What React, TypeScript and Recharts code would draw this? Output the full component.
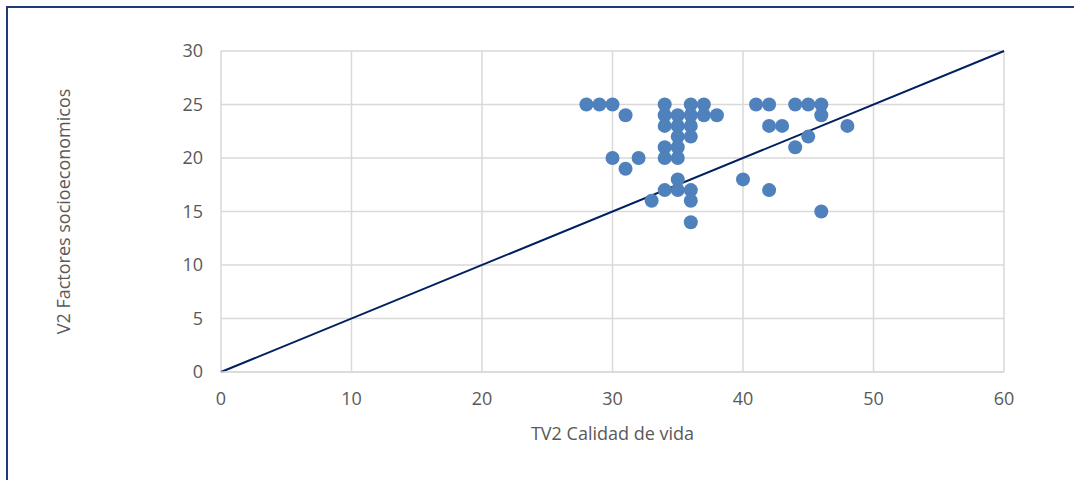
import { ScatterChart, Scatter, XAxis, YAxis, CartesianGrid, ReferenceLine, Label } from "recharts";

// TV2 Calidad de vida
const calidadVida = [
  28, 29, 30, 31, 34, 34, 34, 35, 35, 35, 36, 36, 36, 36, 37, 37, 38, 34, 34, 35, 35, 30, 31, 32,
  33, 34, 35, 35, 36, 36, 36, 40, 41, 42, 42, 43, 42, 44, 45, 46, 46, 48, 44, 45, 46,
];
// V2 Factores socioeconomicos
const factores = [
  25, 25, 25, 24, 25, 24, 23, 24, 23, 22, 25, 24, 23, 22, 25, 24, 24, 21, 20, 21, 20, 20, 19, 20,
  16, 17, 18, 17, 17, 16, 14, 18, 25, 25, 23, 23, 17, 25, 25, 25, 24, 23, 21, 22, 15,
];

const xTicks = [0, 10, 20, 30, 40, 50, 60];
const yTicks = [0, 5, 10, 15, 20, 25, 30];
const trendX = [0, 60];
const trendY = [0, 30];

const points = calidadVida.map((x, i) => ({ x, y: factores[i] }));

const FONT = "'Open Sans', 'Liberation Sans', sans-serif";
const TEXT = "#595959";
const FS = 18;

const Dot = (props: any) => <circle cx={props.cx} cy={props.cy} r={7} fill="#4F81BD" />;

const App = () => {
  return (
    <div
      style={{
        position: "absolute",
        left: 0,
        top: 0,
        width: 1074,
        height: 480,
        background: "#fff",
        fontFamily: FONT,
      }}
    >
      <div
        style={{
          position: "absolute",
          left: 6,
          top: 6,
          width: 1100,
          height: 500,
          borderLeft: "2px solid #1F3A78",
          borderTop: "2px solid #1F3A78",
        }}
      />
      <div style={{ position: "absolute", left: 0, top: 0 }}>
        <ScatterChart width={1074} height={480} margin={{ top: 51, right: 70, bottom: 0, left: 0 }}>
          <CartesianGrid stroke="#D9D9D9" strokeWidth={1.5} />
          <XAxis
            type="number"
            dataKey="x"
            domain={[0, 60]}
            ticks={xTicks}
            height={108}
            axisLine={{ stroke: "#D9D9D9", strokeWidth: 1.5 }}
            tickLine={false}
            tickSize={0}
            tickMargin={20}
            tick={{ fill: TEXT, fontSize: FS, fontFamily: FONT }}
          >
            <Label
              value="TV2 Calidad de vida"
              position="insideBottom"
              offset={40}
              fill={TEXT}
              fontSize={FS}
              fontFamily={FONT}
            />
          </XAxis>
          <YAxis
            type="number"
            dataKey="y"
            domain={[0, 30]}
            ticks={yTicks}
            width={221}
            axisLine={false}
            tickLine={false}
            tickSize={0}
            tickMargin={18}
            tick={{ fill: TEXT, fontSize: FS, fontFamily: FONT }}
          >
            <Label
              content={({ viewBox }: any) => (
                <text
                  x={63}
                  y={viewBox.y + viewBox.height / 2}
                  transform={`rotate(-90 63 ${viewBox.y + viewBox.height / 2})`}
                  textAnchor="middle"
                  dominantBaseline="central"
                  fill={TEXT}
                  fontSize={FS}
                  fontFamily={FONT}
                >
                  V2 Factores socioeconomicos
                </text>
              )}
            />
          </YAxis>
          <ReferenceLine
            segment={[
              { x: trendX[0], y: trendY[0] },
              { x: trendX[1], y: trendY[1] },
            ]}
            stroke="#002060"
            strokeWidth={2}
            ifOverflow="visible"
          />
          <Scatter data={points} shape={Dot} isAnimationActive={false} />
        </ScatterChart>
      </div>
    </div>
  );
};

export default App;
